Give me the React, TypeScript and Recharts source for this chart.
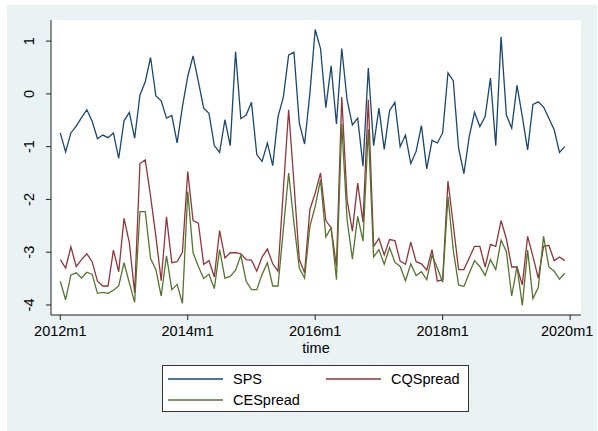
import { LineChart, Line, XAxis, YAxis, CartesianGrid } from "recharts";

// monthly values, 2012m1 .. 2019m12
const sps = [
  -0.74, -1.1, -0.74, -0.61, -0.45, -0.3, -0.52, -0.85, -0.78, -0.83, -0.74, -1.22,
  -0.51, -0.35, -0.84, -0.02, 0.23, 0.69, -0.04, -0.13, -0.46, -0.41, -0.93, -0.24,
  0.33, 0.72, 0.23, -0.27, -0.37, -0.98, -1.11, -0.49, -0.98, 0.8, -0.47, -0.4,
  -0.16, -1.15, -1.28, -0.93, -1.36, -0.43, -0.06, 0.74, 0.79, -0.55, -0.95, 0.01,
  1.22, 0.86, -0.26, 0.53, -0.57, 0.86, -0.11, -0.59, -0.46, -1.37, 0.49, -0.98,
  -0.27, -1.05, -0.32, -0.16, -1.0, -0.78, -1.32, -1.09, -0.6, -1.42, -0.88, -0.93,
  -0.74, 0.4, 0.25, -1.03, -1.51, -0.81, -0.35, -0.62, -0.43, 0.3, -0.98, 1.08,
  -0.4, -0.65, 0.16, -0.43, -1.06, -0.2, -0.15, -0.25, -0.46, -0.68, -1.11, -1.0
];
const cqSpread = [
  -3.14, -3.3, -2.9, -3.27, -3.14, -3.03, -3.18, -3.55, -3.64, -3.64, -2.96, -3.37,
  -2.36, -2.82, -3.77, -1.32, -1.25, -1.94, -2.7, -3.54, -2.33, -3.2, -3.18, -3.0,
  -1.47, -2.4, -2.45, -3.23, -3.16, -3.47, -2.59, -3.11, -3.01, -3.01, -3.03, -3.14,
  -3.15, -3.36, -3.09, -2.94, -3.22, -3.36, -1.82, -0.3, -1.69, -3.14, -3.39, -2.19,
  -1.88, -1.5, -2.4, -2.54, -3.27, -0.06, -2.01, -2.6, -1.69, -2.43, -0.11, -2.89,
  -2.74, -3.05, -2.76, -2.78, -3.17, -3.23, -2.81, -3.18, -3.22, -3.34, -2.95, -3.55,
  -3.52, -1.65, -2.48, -3.33, -3.33, -3.11, -2.89, -2.89, -3.28, -2.85, -2.89, -2.4,
  -2.75, -3.28, -3.28, -3.62, -2.7, -3.08, -3.49, -2.89, -2.87, -3.16, -3.09, -3.16
];
const ceSpread = [
  -3.55, -3.9, -3.43, -3.39, -3.49, -3.38, -3.42, -3.78, -3.76, -3.78, -3.72, -3.64,
  -3.2, -3.58, -3.95, -2.23, -2.23, -3.12, -3.33, -3.83, -3.07, -3.71, -3.61, -3.97,
  -1.85, -3.01, -3.27, -3.5, -3.42, -3.69, -2.95, -3.49, -3.46, -3.34, -3.06, -3.55,
  -3.71, -3.71, -3.42, -3.2, -3.64, -3.64, -2.57, -1.5, -2.45, -3.3, -3.49, -2.51,
  -2.13, -1.63, -2.71, -2.54, -3.52, -0.57, -2.38, -3.13, -2.32, -2.79, -0.67, -3.09,
  -2.95, -3.23, -2.91, -3.19, -3.27, -3.54, -3.22, -3.44, -3.37, -3.52, -3.06, -3.3,
  -3.57, -1.95, -2.96, -3.62, -3.65, -3.4, -3.16, -3.27, -3.44, -3.14, -3.33, -2.77,
  -2.99, -3.83, -3.27, -4.01, -2.96, -3.88, -3.67, -2.7, -3.28, -3.36, -3.51, -3.4
];

const xTicks = [0, 24, 48, 72, 96];
const xTickLabels = ["2012m1", "2014m1", "2016m1", "2018m1", "2020m1"];
const yTicks = [-4, -3, -2, -1, 0, 1];

const series = [
  { key: "sps", name: "SPS", color: "#1a476f" },
  { key: "cq", name: "CQSpread", color: "#90353b" },
  { key: "ce", name: "CESpread", color: "#55752f" }
];

const data = sps.map((v, i) => ({ t: i, sps: v, cq: cqSpread[i], ce: ceSpread[i] }));

const font = "'Liberation Sans', Arial, sans-serif";
const fs = 14.5;

function YTick(props: any) {
  const { y, payload } = props;
  return (
    <text
      x={22}
      y={y}
      transform={`rotate(-90 22 ${y})`}
      textAnchor="middle"
      dominantBaseline="central"
      fontSize={fs}
      fill="#000"
      fontFamily={font}
    >
      {payload.value}
    </text>
  );
}

function XTick(props: any) {
  const { x, y, payload } = props;
  const idx = xTicks.indexOf(payload.value);
  // last label is pulled in a bit so it stays inside the frame
  const dx = idx === xTicks.length - 1 ? -3 : 0;
  return (
    <text x={x + dx} y={y + 14} textAnchor="middle" fontSize={fs} fill="#000" fontFamily={font}>
      {xTickLabels[idx]}
    </text>
  );
}

export default function App() {
  return (
    <div
      style={{
        position: "absolute",
        left: 7,
        top: 5,
        width: 590,
        height: 426,
        background: "#eaf2f3",
        fontFamily: font
      }}
    >
      <LineChart
        width={590}
        height={426}
        data={data}
        margin={{ top: 15, right: 16, left: 0, bottom: 0 }}
        style={{ fontFamily: font }}
      >
        <rect x={44} y={15} width={530} height={295} fill="#fff" />
        <CartesianGrid vertical={false} stroke="#e4eef0" />
        <XAxis
          type="number"
          dataKey="t"
          domain={[-1.75, 98.05]}
          ticks={xTicks}
          height={116}
          tick={<XTick />}
          tickSize={5}
          stroke="#222"
          label={{ value: "time", position: "insideTop", offset: 28, fontSize: fs, fill: "#000", fontFamily: font }}
        />
        <YAxis
          type="number"
          domain={[-4.19, 1.4]}
          ticks={yTicks}
          width={44}
          tick={<YTick />}
          tickSize={5}
          stroke="#222"
        />
        {series.map((s) => (
          <Line
            key={s.key}
            type="linear"
            dataKey={s.key}
            name={s.name}
            stroke={s.color}
            strokeWidth={1.3}
            dot={false}
            isAnimationActive={false}
          />
        ))}
      </LineChart>
      <div
        style={{
          position: "absolute",
          left: 155,
          top: 360,
          width: 305,
          height: 45,
          background: "#fff",
          border: "1px solid #333",
          fontSize: fs
        }}
      >
        {series.map((s, i) => {
          const col = i % 2;
          const row = Math.floor(i / 2);
          return (
            <div
              key={s.key}
              style={{
                position: "absolute",
                left: 5 + col * 158,
                top: 5 + row * 21,
                height: 16,
                display: "flex",
                alignItems: "center"
              }}
            >
              <svg width={55} height={4} style={{ display: "block" }}>
                <line x1={0} y1={2} x2={55} y2={2} stroke={s.color} strokeWidth={1.3} />
              </svg>
              <span style={{ marginLeft: 10 }}>{s.name}</span>
            </div>
          );
        })}
      </div>
    </div>
  );
}
